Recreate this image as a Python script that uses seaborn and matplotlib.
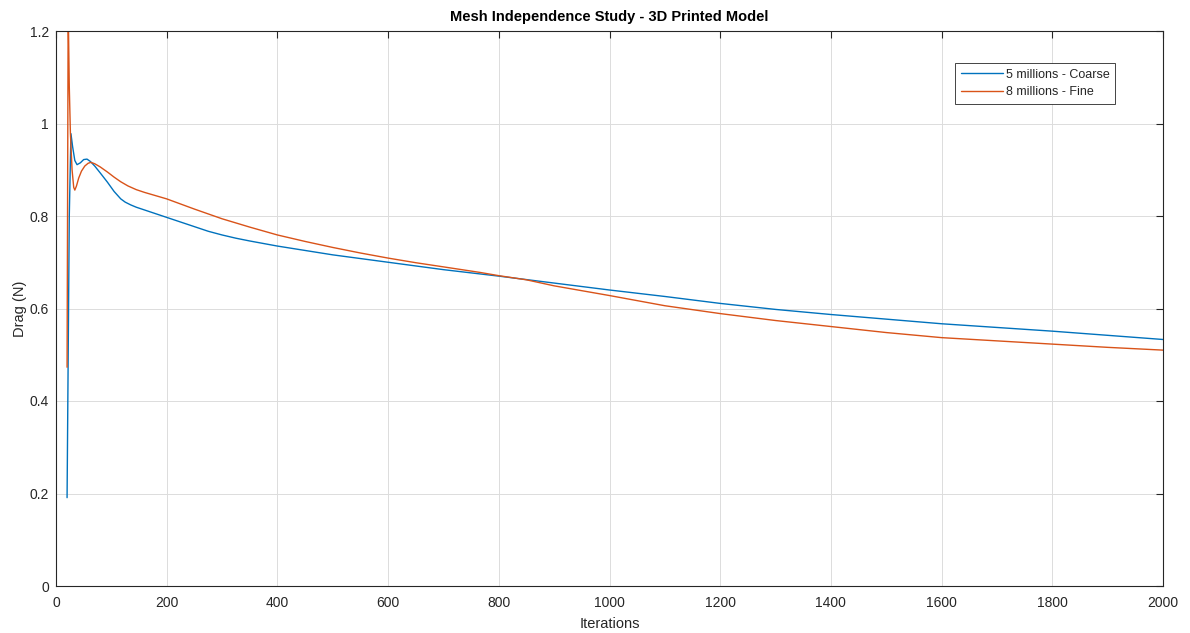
import matplotlib
matplotlib.use("Agg")
import matplotlib.pyplot as plt
import seaborn as sns
import pandas as pd

# Drag history for the two mesh resolutions
coarse_iter = [20, 24, 27, 30, 34, 38, 44, 50, 56, 62, 70, 80, 93, 105, 117, 125,
               135, 145, 160, 180, 200, 225, 250, 275, 300, 325, 350, 400, 500,
               600, 700, 800, 900, 1000, 1100, 1200, 1300, 1400, 1500, 1600, 1700,
               1800, 1900, 2000]
coarse_drag = [0.191, 0.80, 0.978, 0.950, 0.920, 0.911, 0.915, 0.922, 0.923, 0.918,
               0.908, 0.893, 0.873, 0.853, 0.837, 0.830, 0.824, 0.819, 0.813, 0.805,
               0.797, 0.787, 0.777, 0.767, 0.759, 0.752, 0.746, 0.735, 0.716,
               0.700, 0.684, 0.670, 0.655, 0.640, 0.626, 0.611, 0.598, 0.587,
               0.577, 0.567, 0.559, 0.551, 0.542, 0.533]

fine_iter = [20, 22, 24, 26, 29, 32, 34, 37, 41, 46, 52, 58, 63, 70, 80, 93, 105,
             117, 130, 145, 160, 180, 200, 225, 250, 300, 350, 400, 450, 500, 550,
             600, 650, 700, 766, 800, 850, 900, 1000, 1100, 1200, 1300, 1400,
             1500, 1600, 1700, 1800, 1900, 2000]
fine_drag = [0.473, 1.25, 1.08, 0.98, 0.90, 0.862, 0.856, 0.865, 0.882, 0.897,
             0.908, 0.914, 0.916, 0.913, 0.906, 0.895, 0.884, 0.874, 0.865, 0.857,
             0.851, 0.844, 0.837, 0.826, 0.815, 0.794, 0.776, 0.759, 0.745, 0.732,
             0.720, 0.709, 0.699, 0.690, 0.678, 0.671, 0.662, 0.649, 0.628, 0.606,
             0.589, 0.574, 0.561, 0.548, 0.537, 0.530, 0.523, 0.516, 0.510]

series_names = ["5 millions - Coarse", "8 millions - Fine"]
series_colors = ["#0072BD", "#D95319"]

x_ticks = [0, 200, 400, 600, 800, 1000, 1200, 1400, 1600, 1800, 2000]
y_ticks = [0, 0.2, 0.4, 0.6, 0.8, 1.0, 1.2]
y_tick_labels = ["0", "0.2", "0.4", "0.6", "0.8", "1", "1.2"]

df = pd.concat([
    pd.DataFrame({"Iterations": coarse_iter, "Drag": coarse_drag, "Mesh": series_names[0]}),
    pd.DataFrame({"Iterations": fine_iter, "Drag": fine_drag, "Mesh": series_names[1]}),
], ignore_index=True)

sns.set_theme(style="white")
plt.rcParams["font.family"] = ["Liberation Sans", "DejaVu Sans"]
ink = "#262626"

fig = plt.figure(figsize=(11.9, 6.33), dpi=100)
ax = fig.add_axes([56 / 1190, 1 - 586 / 633, (1163 - 56) / 1190, (586 - 31) / 633])

sns.lineplot(data=df, x="Iterations", y="Drag", hue="Mesh",
             palette=dict(zip(series_names, series_colors)),
             estimator=None, sort=False, linewidth=1.0, ax=ax)

ax.set_xlim(0, 2000)
ax.set_ylim(0, 1.2)
ax.set_xticks(x_ticks)
ax.set_xticklabels([str(t) for t in x_ticks])
ax.set_yticks(y_ticks)
ax.set_yticklabels(y_tick_labels)

ax.grid(True, color="#dcdcdc", linewidth=0.7)
ax.set_axisbelow(True)
for s in ax.spines.values():
    s.set_visible(True)
    s.set_color(ink)
    s.set_linewidth(0.8)
ax.tick_params(direction="in", top=True, right=True, length=5, width=0.8,
               colors=ink, labelsize=10)
ax.tick_params(axis="x", pad=7)
ax.tick_params(axis="y", pad=5)

ax.set_xlabel("Iterations", fontsize=10.5, color=ink, labelpad=5)
ax.set_ylabel("Drag (N)", fontsize=10.5, color=ink, labelpad=2)
ax.set_title("Mesh Independence Study - 3D Printed Model", fontsize=10.5,
             fontweight="bold", color="black", pad=7)

leg = ax.legend(loc="upper right", bbox_to_anchor=(1115 / 1190, 1 - 63 / 633),
                bbox_transform=fig.transFigure, borderaxespad=0, frameon=True,
                fancybox=False, framealpha=1, edgecolor=ink, fontsize=9,
                handlelength=3.4, handletextpad=0.2, borderpad=0.45,
                labelspacing=0.45, title=None)
leg.get_frame().set_linewidth(0.6)
for t in leg.get_texts():
    t.set_color(ink)
for line in leg.get_lines():
    line.set_linewidth(1.0)

fig.savefig("out.png", dpi=100, facecolor="white")
